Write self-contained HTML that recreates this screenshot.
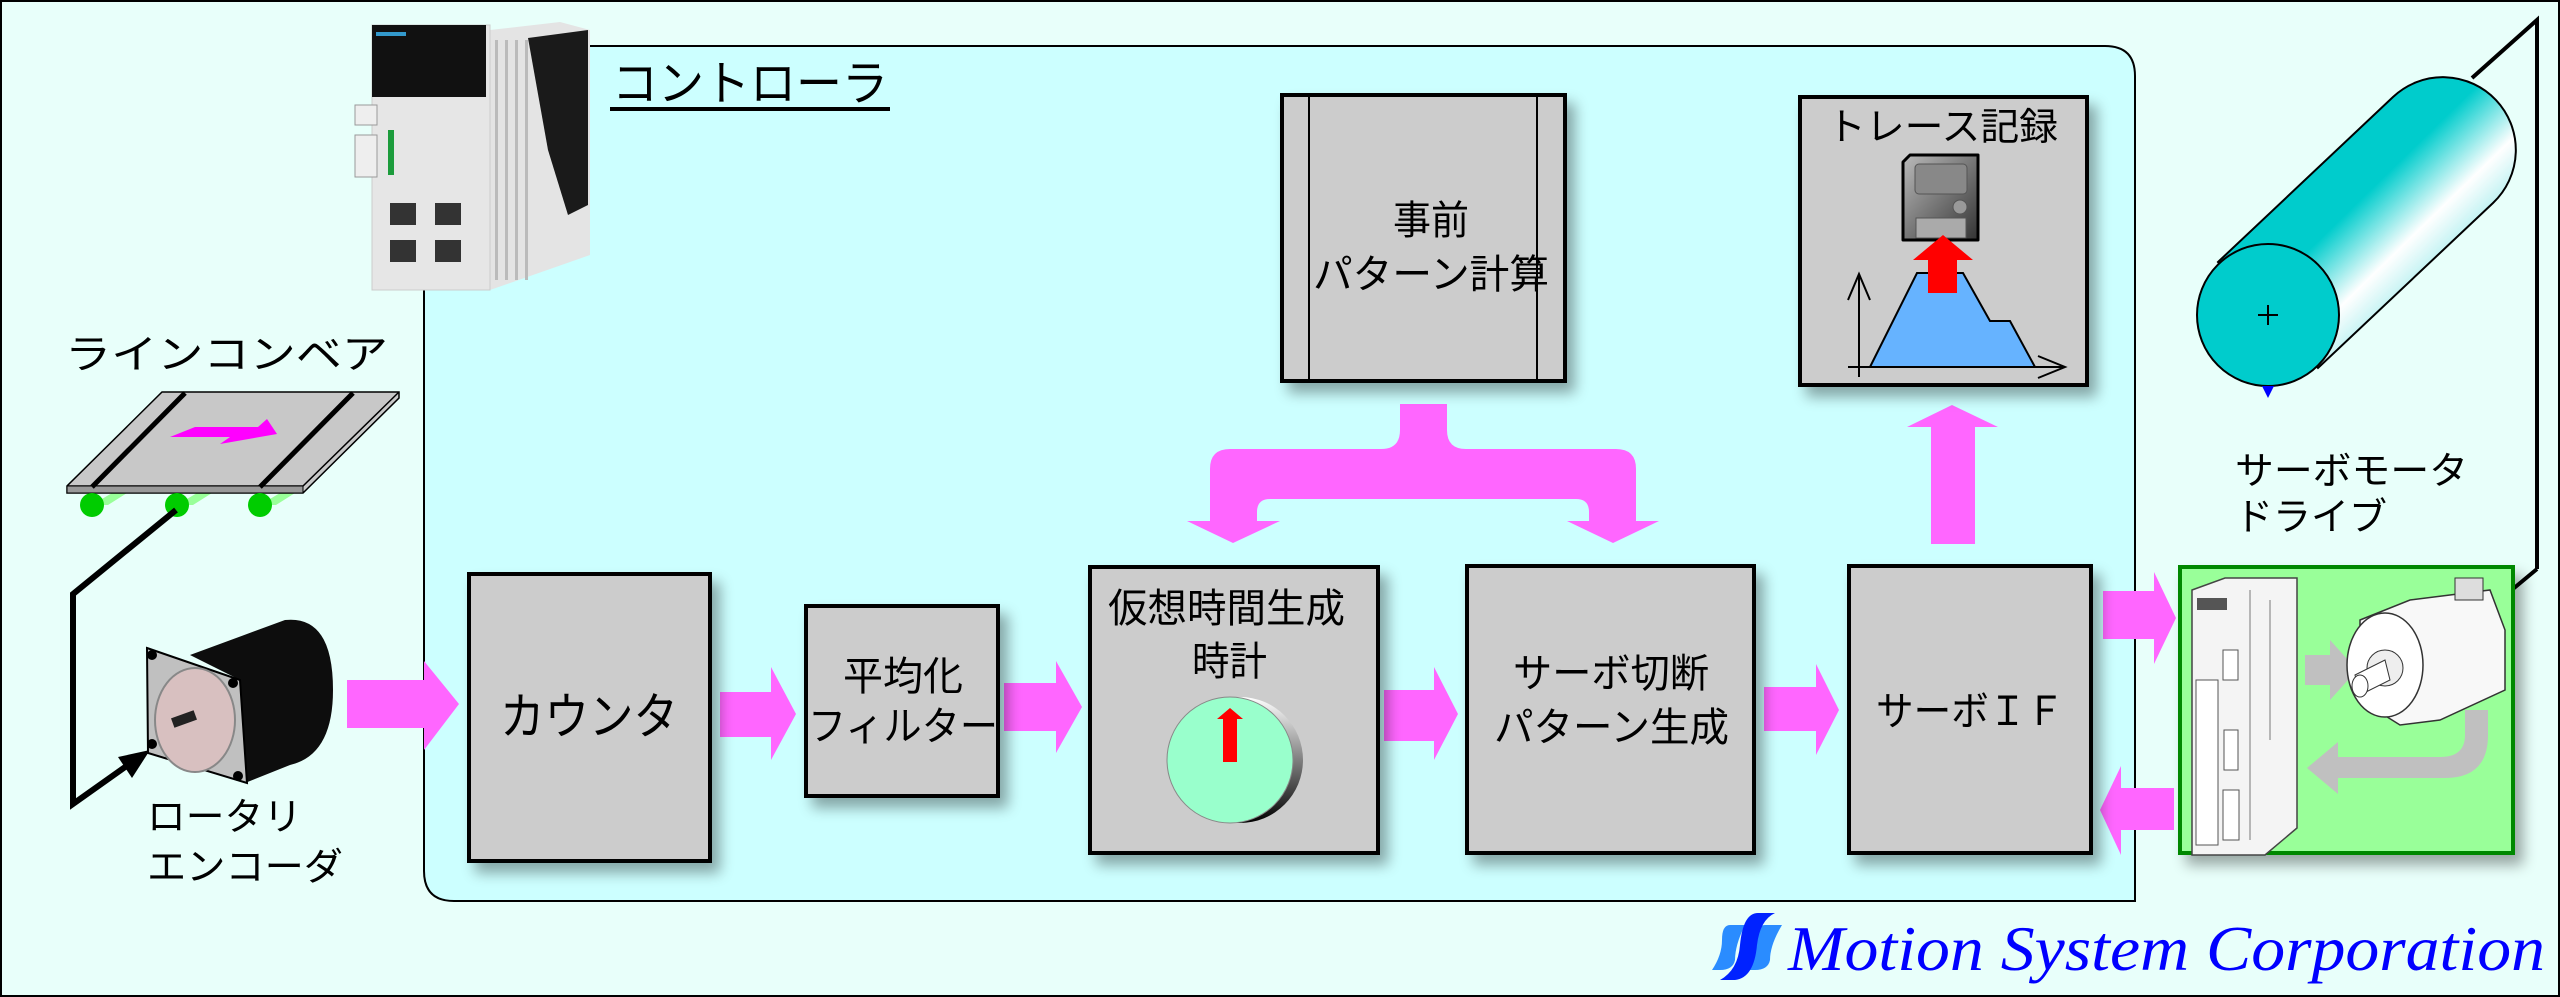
<!DOCTYPE html>
<html><head><meta charset="utf-8"><style>
html,body{margin:0;padding:0;width:2560px;height:997px;overflow:hidden;background:#e8fffa}
svg{display:block}
text{font-family:"Liberation Sans","Noto Sans CJK JP",sans-serif;fill:#000}
</style></head><body>
<svg width="2560" height="997" viewBox="0 0 2560 997" xmlns="http://www.w3.org/2000/svg">
<defs>
<filter id="sh" x="-10%" y="-10%" width="130%" height="130%"><feGaussianBlur in="SourceAlpha" stdDeviation="7"/><feOffset dx="8" dy="10"/><feComponentTransfer><feFuncA type="linear" slope="0.35"/></feComponentTransfer><feMerge><feMergeNode/><feMergeNode in="SourceGraphic"/></feMerge></filter>
<linearGradient id="cyl" x1="0" y1="0" x2="1" y2="1" gradientUnits="objectBoundingBox">
<stop offset="0" stop-color="#00cccc"/><stop offset="0.45" stop-color="#00cccc"/><stop offset="0.6" stop-color="#ffffff"/><stop offset="0.8" stop-color="#66e0e0"/><stop offset="1" stop-color="#00cccc"/></linearGradient>
<linearGradient id="disk" x1="0" y1="0" x2="1" y2="1"><stop offset="0" stop-color="#bbb"/><stop offset="1" stop-color="#333"/></linearGradient>
<linearGradient id="clk" x1="0" y1="0" x2="0" y2="1"><stop offset="0" stop-color="#fff"/><stop offset="1" stop-color="#000"/></linearGradient>
</defs>
<rect x="1" y="1" width="2558" height="995" fill="#e8fffa" stroke="#000" stroke-width="2"/>

<!-- controller -->
<path d="M424 46 H2105 Q2135 46 2135 76 V901 H454 Q424 901 424 871 Z" fill="#ccffff" stroke="#000" stroke-width="2"/>
<text x="612" y="100" font-size="48" textLength="276" lengthAdjust="spacingAndGlyphs">コントローラ</text>
<rect x="610" y="107" width="280" height="4" fill="#000"/>

<!-- PLC -->
<g>
<polygon points="490,30 560,22 590,30 590,255 490,290" fill="#e4e4e4"/>
<rect x="372" y="25" width="118" height="265" fill="#e6e6e6" stroke="#ccc"/>
<rect x="372" y="25" width="114" height="72" fill="#111"/>
<rect x="376" y="32" width="30" height="4" fill="#3399cc"/>
<polygon points="528,38 588,30 588,205 568,215 548,150" fill="#1a1a1a"/>
<g fill="#bbb"><rect x="495" y="40" width="3" height="240"/><rect x="505" y="40" width="3" height="240"/><rect x="515" y="40" width="3" height="240"/><rect x="525" y="40" width="3" height="240"/></g>
<rect x="355" y="105" width="22" height="20" fill="#eee" stroke="#999"/>
<rect x="355" y="135" width="22" height="42" fill="#eee" stroke="#999"/>
<rect x="390" y="203" width="26" height="22" fill="#333"/><rect x="435" y="203" width="26" height="22" fill="#333"/>
<rect x="390" y="240" width="26" height="22" fill="#333"/><rect x="435" y="240" width="26" height="22" fill="#333"/>
<rect x="388" y="130" width="6" height="45" fill="#1c9c3c"/>
</g>

<!-- conveyor -->
<text x="65" y="368" font-size="40" textLength="323" lengthAdjust="spacingAndGlyphs">ラインコンベア</text>
<polygon points="92,505 112,493 127,493 108,505" fill="#99ff99"/>
<polygon points="177,505 197,493 212,493 193,505" fill="#99ff99"/>
<polygon points="260,505 280,493 295,493 276,505" fill="#99ff99"/>
<polygon points="162,392 399,392 399,398 303,493 67,493 67,486" fill="#c8c8c8" stroke="#000" stroke-width="1.5"/>
<polyline points="67,486 303,486 399,392" fill="none" stroke="#000" stroke-width="1.5"/>
<polygon points="67,486 303,486 303,493 67,493" fill="#999" stroke="#000" stroke-width="1"/>
<line x1="185" y1="393" x2="92" y2="487" stroke="#000" stroke-width="5"/>
<line x1="353" y1="393" x2="260" y2="487" stroke="#000" stroke-width="5"/>
<polygon points="170,437 195,427 258,427 267,419 277,434 220,444 230,437" fill="#ff00ff"/>
<circle cx="92" cy="505" r="12" fill="#00cc00"/><circle cx="177" cy="505" r="12" fill="#00cc00"/><circle cx="260" cy="505" r="12" fill="#00cc00"/>
<polyline points="176,510 73,594 73,804 135,760" fill="none" stroke="#000" stroke-width="6"/>
<polygon points="150,750 118,757 132,778" fill="#000"/>

<!-- encoder -->
<path d="M190 655 L285 620 Q333 615 333 690 Q333 755 290 765 L245 783 L240 680 Z" fill="#0d0d0d"/>
<polygon points="147,648 240,680 247,783 148,753" fill="#c0c0c0" stroke="#000" stroke-width="2"/>
<ellipse cx="195" cy="720" rx="40" ry="52" fill="#d8c0c0" stroke="#888" stroke-width="2"/>
<circle cx="152" cy="655" r="5" fill="#000"/><circle cx="233" cy="683" r="5" fill="#000"/><circle cx="152" cy="744" r="5" fill="#000"/><circle cx="238" cy="776" r="5" fill="#000"/>
<rect x="172" y="714" width="24" height="10" fill="#222" transform="rotate(-20 184 719)"/>
<text x="147" y="830" font-size="38" textLength="155" lengthAdjust="spacingAndGlyphs">ロータリ</text>
<text x="147" y="880" font-size="38" textLength="196" lengthAdjust="spacingAndGlyphs">エンコーダ</text>

<!-- pink arrows -->
<g fill="#ff66ff">
<polygon points="347,680 424,680 424,661 459,704 424,750 424,728 347,728"/>
<polygon points="720,692 771,692 771,667 796,714 771,760 771,737 720,737"/>
<polygon points="1004,683 1056,683 1056,661 1082,707 1056,753 1056,731 1004,731"/>
<polygon points="1384,690 1434,690 1434,667 1458,714 1434,760 1434,741 1384,741"/>
<polygon points="1764,687 1816,687 1816,664 1839,710 1816,755 1816,731 1764,731"/>
<polygon points="2103,591 2154,591 2154,572 2176,618 2154,664 2154,639 2103,639"/>
<polygon points="2174,788 2121,788 2121,766 2100,810 2121,855 2121,830 2174,830"/>
<polygon points="1931,544 1931,427 1907,427 1952,405 1998,427 1975,427 1975,544"/>
<path d="M1400 404 H1447 V430 Q1447 449 1466 449 H1616 Q1636 449 1636 469 V521 H1659 L1613 543 L1567 521 H1589 V512 Q1589 499 1576 499 H1270 Q1257 499 1257 512 V521 H1280 L1233 543 L1187 521 H1210 V469 Q1210 449 1230 449 H1381 Q1400 449 1400 430 Z"/>
</g>

<!-- boxes -->
<g stroke="#000" stroke-width="4" fill="#cccccc" filter="url(#sh)">
<rect x="1282" y="95" width="283" height="286"/>
<rect x="1800" y="97" width="287" height="288"/>
<rect x="469" y="574" width="241" height="287"/>
<rect x="806" y="606" width="192" height="190"/>
<rect x="1090" y="567" width="288" height="286"/>
<rect x="1467" y="566" width="287" height="287"/>
<rect x="1849" y="566" width="242" height="287"/>
</g>
<line x1="1309" y1="95" x2="1309" y2="381" stroke="#000" stroke-width="2"/>
<line x1="1537" y1="95" x2="1537" y2="381" stroke="#000" stroke-width="2"/>
<text x="1393" y="234" font-size="40" textLength="76" lengthAdjust="spacingAndGlyphs">事前</text>
<text x="1313" y="288" font-size="40" textLength="236" lengthAdjust="spacingAndGlyphs">パターン計算</text>
<text x="1827" y="140" font-size="38" textLength="231" lengthAdjust="spacingAndGlyphs">トレース記録</text>
<text x="500" y="734" font-size="50" textLength="178" lengthAdjust="spacingAndGlyphs">カウンタ</text>
<text x="843" y="690" font-size="40" textLength="120" lengthAdjust="spacingAndGlyphs">平均化</text>
<text x="808" y="740" font-size="40" textLength="190" lengthAdjust="spacingAndGlyphs">フィルター</text>
<text x="1108" y="622" font-size="40" textLength="237" lengthAdjust="spacingAndGlyphs">仮想時間生成</text>
<text x="1192" y="675" font-size="40" textLength="75" lengthAdjust="spacingAndGlyphs">時計</text>
<text x="1513" y="687" font-size="40" textLength="196" lengthAdjust="spacingAndGlyphs">サーボ切断</text>
<text x="1494" y="741" font-size="40" textLength="235" lengthAdjust="spacingAndGlyphs">パターン生成</text>
<text x="1876" y="725" font-size="40" textLength="188" lengthAdjust="spacingAndGlyphs">サーボＩＦ</text>

<!-- clock -->
<circle cx="1240" cy="760" r="63" fill="url(#clk)"/>
<circle cx="1230" cy="760" r="63" fill="#99ffcc" stroke="#888" stroke-width="1"/>
<polygon points="1230,708 1243,719 1237,719 1237,762 1223,762 1223,719 1217,719" fill="#ff0000"/>

<!-- trace -->
<path d="M1910 155 H1978 V240 H1903 V162 Z" fill="url(#disk)" stroke="#000" stroke-width="3" stroke-linejoin="round"/>
<rect x="1915" y="164" width="52" height="30" rx="4" fill="#888" stroke="#555"/>
<circle cx="1960" cy="207" r="7" fill="#999" stroke="#555"/>
<rect x="1916" y="218" width="50" height="20" fill="#aaa" stroke="#555"/>
<polygon points="1870,367 1917,273 1963,273 1990,321 2010,321 2035,367" fill="#66b3ff" stroke="#000" stroke-width="2"/>
<polygon points="1943,235 1973,260 1957,260 1957,293 1928,293 1928,260 1913,260" fill="#ff0000"/>
<g stroke="#000" stroke-width="2" fill="none"><line x1="1859" y1="275" x2="1859" y2="377"/><polyline points="1848,300 1859,274 1870,300"/><line x1="1848" y1="367" x2="2064" y2="367"/><polyline points="2038,356 2065,367 2038,378"/></g>

<!-- cylinder -->
<polyline points="2472,78 2537,20 2537,569" fill="none" stroke="#000" stroke-width="4"/>
<line x1="2537" y1="569" x2="2490" y2="608" stroke="#000" stroke-width="4"/>
<path d="M2218 262 L2393 97 A72 72 0 0 1 2493 203 L2318 368 Z" fill="url(#cyl)" stroke="#000" stroke-width="2"/>
<circle cx="2268" cy="315" r="71" fill="#00cccc" stroke="#000" stroke-width="2"/>
<path d="M2258 315 H2278 M2268 305 V325" stroke="#000" stroke-width="2"/>
<polygon points="2262,386 2274,386 2268,398" fill="#0000ff"/>
<text x="2235" y="484" font-size="38" textLength="233" lengthAdjust="spacingAndGlyphs">サーボモータ</text>
<text x="2235" y="530" font-size="38" textLength="152" lengthAdjust="spacingAndGlyphs">ドライブ</text>

<!-- drive -->
<rect x="2180" y="567" width="333" height="286" fill="#99ff99" stroke="#008800" stroke-width="4" filter="url(#sh)"/>
<polygon points="2192,590 2225,578 2297,578 2297,828 2265,855 2192,855" fill="#f4f4f4" stroke="#444" stroke-width="1.5"/>
<rect x="2197" y="598" width="30" height="12" fill="#555"/>
<g fill="#fff" stroke="#555"><rect x="2196" y="680" width="22" height="165"/><rect x="2223" y="650" width="15" height="30"/><rect x="2224" y="730" width="14" height="40"/><rect x="2223" y="790" width="16" height="50"/></g>
<g stroke="#777" stroke-width="1"><line x1="2250" y1="590" x2="2250" y2="840"/><line x1="2270" y1="600" x2="2270" y2="740"/></g>
<polygon points="2305,655 2330,655 2330,640 2357,670 2330,700 2330,685 2305,685" fill="#c0c0c0"/>
<path d="M2465 710 V735 Q2465 757 2440 757 H2338 V742 L2307 768 L2338 794 V778 H2445 Q2488 778 2488 735 V710 Z" fill="#c0c0c0"/>
<polygon points="2360,620 2410,600 2490,590 2505,630 2505,690 2440,720 2400,725 2360,700" fill="#f8f8f8" stroke="#333" stroke-width="1.5"/>
<ellipse cx="2385" cy="665" rx="38" ry="52" fill="#fff" stroke="#333" stroke-width="1.5"/>
<circle cx="2385" cy="668" r="18" fill="#eee" stroke="#333"/>
<path d="M2355 675 L2385 660 L2390 680 L2360 695 Z" fill="#fff" stroke="#333"/>
<ellipse cx="2360" cy="686" rx="8" ry="11" fill="#fff" stroke="#333"/>
<rect x="2455" y="578" width="28" height="22" fill="#ddd" stroke="#333"/>

<!-- logo -->
<path d="M1730 925 H1745 Q1735 945 1735 960 Q1733 970 1720 970 H1712 Q1722 955 1722 940 Q1722 925 1730 925 Z" fill="#2a8cff"/>
<path d="M1765 925 H1782 Q1770 945 1770 960 Q1768 970 1755 970 H1747 Q1757 955 1757 940 Q1757 925 1765 925 Z" fill="#2a8cff"/>
<path d="M1758 913 H1775 Q1760 920 1757 945 Q1754 978 1735 980 H1720 Q1738 970 1740 945 Q1743 913 1758 913 Z" fill="#0022ff"/>
<text x="1788" y="970" font-size="64" textLength="757" lengthAdjust="spacingAndGlyphs" style="fill:#0000ff;font-family:'Liberation Serif',serif;font-style:italic">Motion System Corporation</text>
</svg>
</body></html>
